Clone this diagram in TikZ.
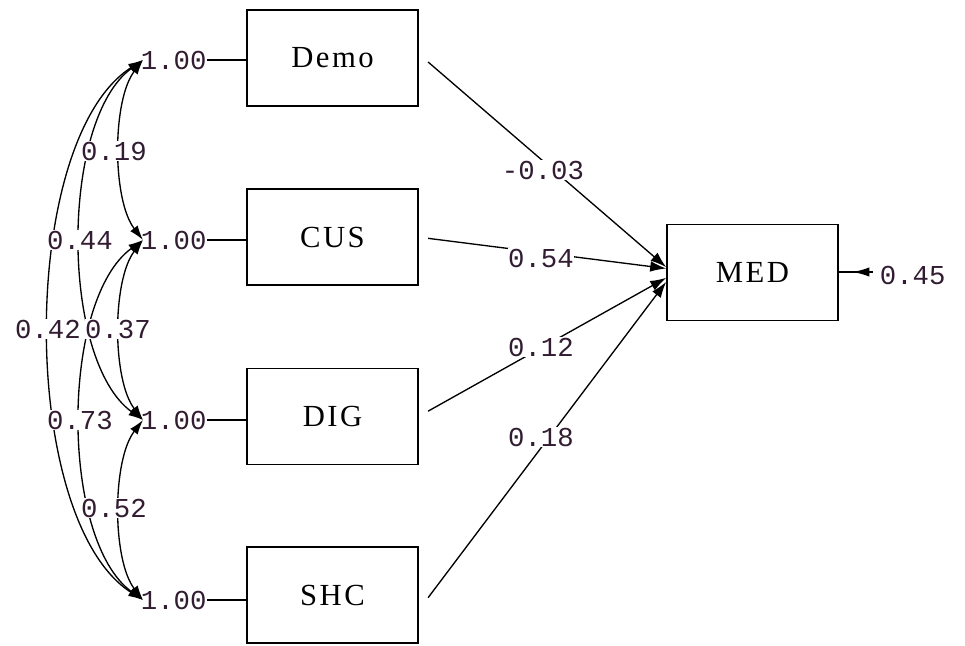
\documentclass[tikz,border=0pt]{standalone}
\usepackage{fontspec}
\setmainfont{Liberation Serif}
\newfontfamily\monofont{Liberation Mono}
\usetikzlibrary{arrows.meta}
\definecolor{numc}{RGB}{50,28,50}
\begin{document}
\begin{tikzpicture}[x=0.75pt,y=-0.75pt,
  box/.style={draw,line width=1.4pt,minimum width=128pt,minimum height=72pt,inner sep=0pt,
    font=\fontsize{23}{25}\selectfont\addfontfeature{LetterSpace=8}},
  num/.style={font=\monofont\fontsize{20.5}{22}\selectfont,text=numc,inner sep=0.5pt},
  lab/.style={num,fill=white},
  conn/.style={line width=1pt},
  tipd/.style={-{Latex[length=12pt,width=8pt]}},
  both/.style={{Latex[length=11pt,width=7pt]}-{Latex[length=11pt,width=7pt]}}
]
\useasboundingbox (0,0) rectangle (965,646);

% boxes
\node[box] (demo) at (332.5,58) {Demo};
\node[box] (cus)  at (332.5,237) {CUS};
\node[box] (dig)  at (332.5,416.5) {DIG};
\node[box] (shc)  at (332.5,595) {SHC};
\node[box] (med)  at (752.5,272.5) {MED};

% variance labels
\node[num,anchor=west] (v1) at (140,60) {1.00};
\node[num,anchor=west] (v2) at (140,240) {1.00};
\node[num,anchor=west] (v3) at (140,420) {1.00};
\node[num,anchor=west] (v4) at (140,600) {1.00};
\draw[conn] (v1.east) -- (demo.west |- v1.east);
\draw[conn] (v2.east) -- (cus.west |- v2.east);
\draw[conn] (v3.east) -- (dig.west |- v3.east);
\draw[conn] (v4.east) -- (shc.west |- v4.east);

% tip points
\coordinate (t1) at (143,60);
\coordinate (t2) at (143,240);
\coordinate (t3) at (143,420);
\coordinate (t4) at (143,600);

% covariance curves
\draw[conn,both] (t1) .. controls (112,100) and (112,200) .. (t2);
\draw[conn,both] (t2) .. controls (112,280) and (112,380) .. (t3);
\draw[conn,both] (t3) .. controls (112,460) and (112,560) .. (t4);
\draw[conn,both] (t1) .. controls (60,120) and (60,360) .. (t3);
\draw[conn,both] (t2) .. controls (60,300) and (60,540) .. (t4);
\draw[conn,both] (t1) .. controls (18,140) and (18,520) .. (t4);

% covariance labels
\node[lab] (c12) at (114,151) {0.19};
\node[lab] (c13) at (80,240) {0.44};
\node[lab] (c14) at (48,329) {0.42};
\node[lab] (c23) at (118,329) {0.37};
\node[lab] (c24) at (80,420) {0.73};
\node[lab] (c34) at (114,508) {0.52};

% paths to MED
\draw[conn,tipd] ([xshift=7pt,yshift=-3pt]demo.east) -- ([yshift=4pt]med.west);
\draw[conn,tipd] ([xshift=7pt,yshift=-1pt]cus.east) -- ([yshift=3pt]med.west);
\draw[conn,tipd] ([xshift=7pt,yshift=4pt]dig.east) -- ([yshift=-4pt]med.west);
\draw[conn,tipd] ([xshift=7pt,yshift=-2pt]shc.east) -- ([yshift=-7pt]med.west);

\node[lab] (p1) at (543,170) {-0.03};
\node[lab] (p2) at (541,258) {0.54};
\node[lab] (p3) at (541,347) {0.12};
\node[lab] (p4) at (541,437) {0.18};

% error
\coordinate (e) at (873,272);
\coordinate (e2) at (852,272);
\draw[conn] (med.east |- e) -- (e);
\draw[line width=1.6pt,-{Latex[length=13pt,width=7pt]}] (e) -- (e2);
\node[num,anchor=west] (err) at (879,275) {0.45};
\end{tikzpicture}
\end{document}
